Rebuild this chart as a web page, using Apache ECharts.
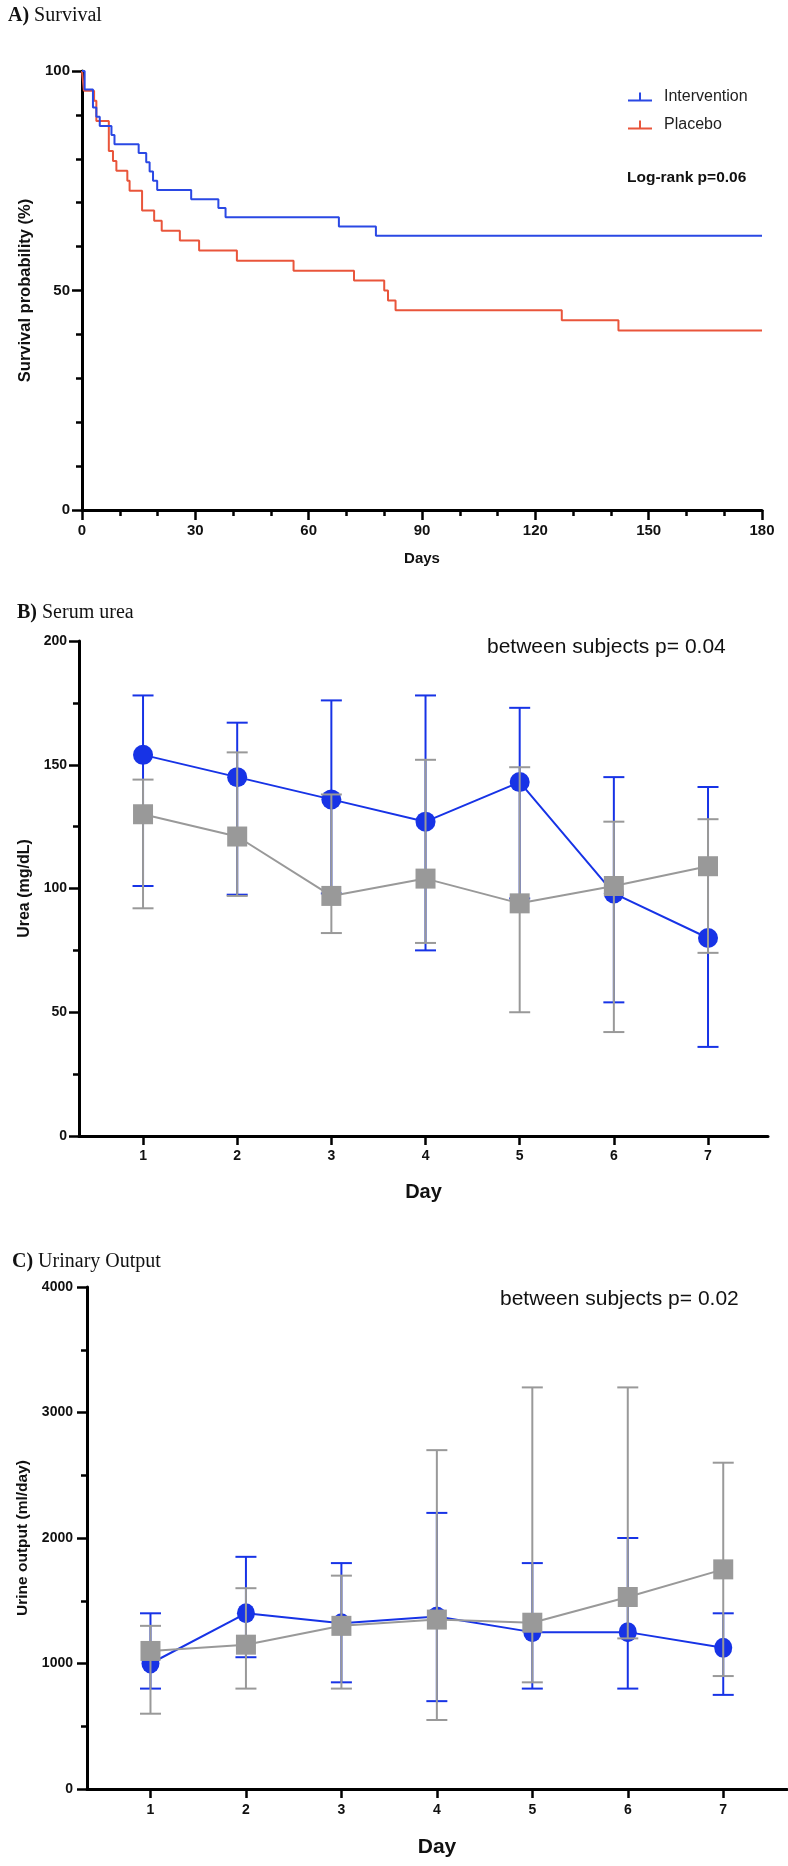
<!DOCTYPE html>
<html><head><meta charset="utf-8">
<script src="https://cdn.jsdelivr.net/npm/echarts@6/dist/echarts.min.js"></script>
<style>html,body{margin:0;padding:0;background:#fff}#c{width:788px;height:1866px}</style>
</head><body><div id="c"></div><script>
// ---------- Panel A: Kaplan-Meier survival ----------
const survDaysInt = [0, 0.7, 2.9, 3.8, 4.7, 7.8, 8.6, 15.0, 17.0, 17.9, 18.8, 19.9, 28.9, 36.1, 38.0, 68.0, 77.8, 180];
const survInt     = [100, 95.8, 91.7, 89.6, 87.5, 85.4, 83.3, 81.3, 79.2, 77.1, 75.0, 72.9, 70.8, 68.8, 66.7, 64.6, 62.5, 62.5];
const survDaysPla = [0, 0.5, 3.2, 3.8, 7.1, 8.2, 9.1, 12.0, 12.6, 15.9, 19.1, 21.1, 25.9, 31.0, 41.0, 56.0, 72.0, 80.0, 81.0, 83.0, 127.0, 142.0, 180];
const survPla     = [100, 95.5, 93.2, 88.6, 81.8, 79.5, 77.3, 75.0, 72.7, 68.2, 65.9, 63.6, 61.4, 59.1, 56.8, 54.5, 52.3, 50.0, 47.7, 45.5, 43.2, 40.9, 40.9];

// ---------- Panel B: Serum urea ----------
const days = [1, 2, 3, 4, 5, 6, 7];
const dayTicks = [1, 2, 3, 4, 5, 6, 7];
const ureaIntMean = [154, 145, 136, 127, 143, 98, 80];
const ureaIntLow  = [101, 97.5, 98, 75, 96, 54, 36];
const ureaIntHigh = [178, 167, 176, 178, 173, 145, 141];
const ureaPlaMean = [130, 121, 97, 104, 94, 101, 109];
const ureaPlaLow  = [92, 97, 82, 78, 50, 42, 74];
const ureaPlaHigh = [144, 155, 138, 152, 149, 127, 128];

// ---------- Panel C: Urinary output ----------
const urineIntMean = [1000, 1400, 1320, 1375, 1250, 1250, 1125];
const urineIntLow  = [800, 1050, 850, 700, 800, 800, 750];
const urineIntHigh = [1400, 1850, 1800, 2200, 1800, 2000, 1400];
const urinePlaMean = [1100, 1150, 1300, 1350, 1325, 1530, 1750];
const urinePlaLow  = [600, 800, 800, 550, 850, 1200, 900];
const urinePlaHigh = [1300, 1600, 1700, 2700, 3200, 3200, 2600];

const F = "'Liberation Sans', Arial, Helvetica, sans-serif";
const SERIF = "'Liberation Serif', 'Times New Roman', serif";
const BLUE_A = '#2a48e4', RED_A = '#e9553b';
const BLUE = '#1733e6', GREY = '#999999';

const chart = echarts.init(document.getElementById('c'), null, {renderer: 'canvas'});

function zip(xs, ys) { return xs.map((x, i) => [x, ys[i]]); }
function errData(lo, hi) { return days.map((d, i) => [d, lo[i], hi[i]]); }

function errRender(color) {
  return function (params, api) {
    const x = api.value(0), lo = api.value(1), hi = api.value(2);
    const a = api.coord([x, lo]), b = api.coord([x, hi]);
    const hw = 10.5;
    const st = {stroke: color, lineWidth: 2};
    return {type: 'group', children: [
      {type: 'line', shape: {x1: a[0], y1: a[1], x2: b[0], y2: b[1]}, style: st},
      {type: 'line', shape: {x1: a[0] - hw, y1: a[1], x2: a[0] + hw, y2: a[1]}, style: st},
      {type: 'line', shape: {x1: b[0] - hw, y1: b[1], x2: b[0] + hw, y2: b[1]}, style: st}
    ]};
  };
}

const axLine = {show: true, onZero: false, lineStyle: {color: '#000', width: 3}};
const tickStyle = {color: '#000', width: 2.5};
const lblStyle = (size, margin) => ({fontWeight: 'bold', fontSize: size, color: '#111', fontFamily: F, margin: margin,
  formatter: v => String(v)});

const option = {
  animation: false,
  backgroundColor: '#fff',
  title: [
    {text: '{b|A)} Survival', left: 3, top: 1,
     textStyle: {fontFamily: SERIF, fontSize: 20, fontWeight: 'normal', color: '#111',
       rich: {b: {fontFamily: SERIF, fontSize: 20, fontWeight: 'bold', color: '#111'}}}},
    {text: '{b|B)} Serum urea', left: 12, top: 598,
     textStyle: {fontFamily: SERIF, fontSize: 20, fontWeight: 'normal', color: '#111',
       rich: {b: {fontFamily: SERIF, fontSize: 20, fontWeight: 'bold', color: '#111'}}}},
    {text: '{b|C)} Urinary Output', left: 7, top: 1247,
     textStyle: {fontFamily: SERIF, fontSize: 20, fontWeight: 'normal', color: '#111',
       rich: {b: {fontFamily: SERIF, fontSize: 20, fontWeight: 'bold', color: '#111'}}}}
  ],
  legend: {
    data: ['Intervention', 'Placebo'],
    left: 623, top: 84, orient: 'vertical',
    icon: 'path://M0,7h24v2H0z M11,0h2v7h-2z',
    itemWidth: 24, itemHeight: 9, itemGap: 12,
    textStyle: {fontSize: 16, color: '#222', fontFamily: F, padding: [0, 0, 0, 7]}
  },
  graphic: [
    {type: 'text', left: 627, top: 170, style: {text: 'Log-rank p=0.06', fontFamily: F, fontSize: 15.5, fontWeight: 'bold', fill: '#111'}},
    {type: 'text', left: 487, top: 637, style: {text: 'between subjects p= 0.04', fontFamily: F, fontSize: 21, fill: '#111'}},
    {type: 'text', left: 500, top: 1289, style: {text: 'between subjects p= 0.02', fontFamily: F, fontSize: 21, fill: '#111'}}
  ],
  grid: [
    {left: 82, top: 71, width: 680, height: 439},
    {left: 79, top: 641, width: 689, height: 495},
    {left: 87, top: 1287, width: 700, height: 502}
  ],
  xAxis: [
    {gridIndex: 0, type: 'value', min: 0, max: 180, interval: 30,
     axisLine: axLine, axisTick: {show: true, length: 10, lineStyle: tickStyle},
     minorTick: {show: true, splitNumber: 3, length: 6, lineStyle: tickStyle},
     splitLine: {show: false}, minorSplitLine: {show: false},
     axisLabel: lblStyle(15, 13),
     name: 'Days', nameLocation: 'middle', nameGap: 41,
     nameTextStyle: {fontWeight: 'bold', fontSize: 15, color: '#111', fontFamily: F}},
    {gridIndex: 1, type: 'value', min: 0.32, max: 7.637,
     axisLine: axLine, axisTick: {show: true, length: 9, lineStyle: tickStyle, customValues: dayTicks},
     splitLine: {show: false},
     axisLabel: Object.assign(lblStyle(14, 13), {customValues: dayTicks}),
     name: 'Day', nameLocation: 'middle', nameGap: 46,
     nameTextStyle: {fontWeight: 'bold', fontSize: 20, color: '#111', fontFamily: F}},
    {gridIndex: 2, type: 'value', min: 0.335, max: 7.668,
     axisLine: axLine, axisTick: {show: true, length: 9, lineStyle: tickStyle, customValues: dayTicks},
     splitLine: {show: false},
     axisLabel: Object.assign(lblStyle(14, 14), {customValues: dayTicks}),
     name: 'Day', nameLocation: 'middle', nameGap: 48,
     nameTextStyle: {fontWeight: 'bold', fontSize: 21, color: '#111', fontFamily: F}}
  ],
  yAxis: [
    {gridIndex: 0, type: 'value', min: 0, max: 100, interval: 50,
     axisLine: axLine, axisTick: {show: true, length: 10, lineStyle: tickStyle},
     minorTick: {show: true, splitNumber: 5, length: 6, lineStyle: tickStyle},
     splitLine: {show: false}, minorSplitLine: {show: false},
     axisLabel: lblStyle(15, 12),
     name: 'Survival probability (%)', nameLocation: 'middle', nameGap: 45,
     nameTextStyle: {fontWeight: 'bold', fontSize: 16.5, color: '#111', fontFamily: F}},
    {gridIndex: 1, type: 'value', min: 0, max: 200, interval: 50,
     axisLine: axLine, axisTick: {show: true, length: 10, lineStyle: tickStyle},
     minorTick: {show: true, splitNumber: 2, length: 6, lineStyle: tickStyle},
     splitLine: {show: false}, minorSplitLine: {show: false},
     axisLabel: lblStyle(14, 12),
     name: 'Urea (mg/dL)', nameLocation: 'middle', nameGap: 46,
     nameTextStyle: {fontWeight: 'bold', fontSize: 16, color: '#111', fontFamily: F}},
    {gridIndex: 2, type: 'value', min: 0, max: 4000, interval: 1000,
     axisLine: axLine, axisTick: {show: true, length: 10, lineStyle: tickStyle},
     minorTick: {show: true, splitNumber: 2, length: 6, lineStyle: tickStyle},
     splitLine: {show: false}, minorSplitLine: {show: false},
     axisLabel: lblStyle(14, 14),
     name: 'Urine output (ml/day)', nameLocation: 'middle', nameGap: 55,
     nameTextStyle: {fontWeight: 'bold', fontSize: 15.5, color: '#111', fontFamily: F}}
  ],
  series: [
    {name: 'Intervention', type: 'line', step: 'end', xAxisIndex: 0, yAxisIndex: 0,
     data: zip(survDaysInt, survInt), symbol: 'none', z: 3,
     itemStyle: {color: BLUE_A}, lineStyle: {color: BLUE_A, width: 2}},
    {name: 'Placebo', type: 'line', step: 'end', xAxisIndex: 0, yAxisIndex: 0,
     data: zip(survDaysPla, survPla), symbol: 'none', z: 2,
     itemStyle: {color: RED_A}, lineStyle: {color: RED_A, width: 2}},

    {name: 'Urea intervention SD', type: 'custom', xAxisIndex: 1, yAxisIndex: 1,
     data: errData(ureaIntLow, ureaIntHigh), renderItem: errRender(BLUE), z: 2, clip: false},
    {name: 'Urea intervention', type: 'line', xAxisIndex: 1, yAxisIndex: 1,
     data: zip(days, ureaIntMean), symbol: 'circle', symbolSize: 20, z: 3,
     itemStyle: {color: BLUE}, lineStyle: {color: BLUE, width: 2}},
    {name: 'Urea placebo SD', type: 'custom', xAxisIndex: 1, yAxisIndex: 1,
     data: errData(ureaPlaLow, ureaPlaHigh), renderItem: errRender(GREY), z: 4, clip: false},
    {name: 'Urea placebo', type: 'line', xAxisIndex: 1, yAxisIndex: 1,
     data: zip(days, ureaPlaMean), symbol: 'rect', symbolSize: 20, z: 5,
     itemStyle: {color: GREY}, lineStyle: {color: GREY, width: 2}},

    {name: 'Urine intervention SD', type: 'custom', xAxisIndex: 2, yAxisIndex: 2,
     data: errData(urineIntLow, urineIntHigh), renderItem: errRender(BLUE), z: 2, clip: false},
    {name: 'Urine intervention', type: 'line', xAxisIndex: 2, yAxisIndex: 2,
     data: zip(days, urineIntMean), symbol: 'circle', symbolSize: [18, 20], z: 3,
     itemStyle: {color: BLUE}, lineStyle: {color: BLUE, width: 2}},
    {name: 'Urine placebo SD', type: 'custom', xAxisIndex: 2, yAxisIndex: 2,
     data: errData(urinePlaLow, urinePlaHigh), renderItem: errRender(GREY), z: 4, clip: false},
    {name: 'Urine placebo', type: 'line', xAxisIndex: 2, yAxisIndex: 2,
     data: zip(days, urinePlaMean), symbol: 'rect', symbolSize: 20, z: 5,
     itemStyle: {color: GREY}, lineStyle: {color: GREY, width: 2}}
  ]
};
chart.setOption(option);
</script></body></html>
